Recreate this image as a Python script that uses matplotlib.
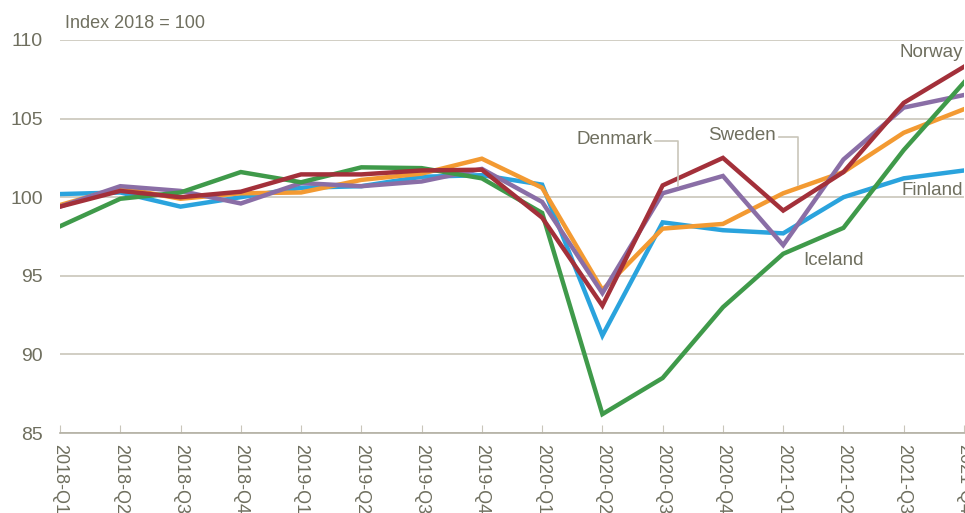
import matplotlib
matplotlib.use("Agg")
import matplotlib.pyplot as plt
from matplotlib import font_manager

names = {f.name for f in font_manager.fontManager.ttflist}
fam = ["Liberation Sans Narrow"] if "Liberation Sans Narrow" in names else ["Liberation Sans"]
plt.rcParams["font.family"] = fam + ["DejaVu Sans"]

quarters = ["2018-Q1", "2018-Q2", "2018-Q3", "2018-Q4",
            "2019-Q1", "2019-Q2", "2019-Q3", "2019-Q4",
            "2020-Q1", "2020-Q2", "2020-Q3", "2020-Q4",
            "2021-Q1", "2021-Q2", "2021-Q3", "2021-Q4"]

finland = [100.2, 100.3, 99.4, 100.0, 100.6, 100.7, 101.3, 101.4,
           100.8, 91.2, 98.4, 97.9, 97.7, 100.0, 101.2, 101.7]
iceland = [98.15, 99.9, 100.3, 101.6, 100.95, 101.9, 101.85, 101.2,
           99.0, 86.2, 88.5, 93.0, 96.4, 98.05, 103.0, 107.3]
denmark = [99.4, 100.7, 100.4, 99.6, 100.9, 100.7, 101.0, 101.8,
           99.7, 93.9, 100.25, 101.35, 96.95, 102.4, 105.7, 106.5]
sweden = [99.5, 100.6, 99.9, 100.25, 100.3, 101.1, 101.5, 102.45,
          100.6, 94.1, 98.0, 98.3, 100.25, 101.6, 104.1, 105.6]
norway = [99.4, 100.4, 100.0, 100.35, 101.45, 101.45, 101.7, 101.75,
          98.7, 93.1, 100.75, 102.5, 99.15, 101.6, 106.0, 108.3]

TXT = "#6f6f5f"
GRID = "#c9c6ba"

fig = plt.figure(figsize=(9.65, 5.13), dpi=100)
ax = fig.add_axes([60/965, 1-433/513, 904/965, (433-40)/513])

x = list(range(len(quarters)))
series = [("Finland", finland, "#2aa3dd"),
          ("Sweden", sweden, "#f39a32"),
          ("Denmark", denmark, "#8a6ea6"),
          ("Iceland", iceland, "#3f9a4a"),
          ("Norway", norway, "#a3303a")]
for name, vals, col in series:
    ax.plot(x, vals, color=col, lw=3.2, solid_joinstyle="miter", clip_on=True)

ax.set_xlim(0, 15)
ax.set_ylim(85, 110)
ax.set_yticks([85, 90, 95, 100, 105, 110])
ax.set_xticks(x)
ax.set_xticklabels(quarters, rotation=270, fontsize=13, color=TXT)
ax.tick_params(axis="y", length=0, pad=12.5, labelsize=14, labelcolor=TXT)
ax.tick_params(axis="x", direction="in", length=6, color=GRID, pad=8)
ax.grid(axis="y", color=GRID, lw=1.2)
ax.set_axisbelow(True)
for s in ["top", "right", "left"]:
    ax.spines[s].set_visible(False)
ax.spines["bottom"].set_color("#b3b0a4")
ax.spines["bottom"].set_linewidth(1.2)

ax.text(0.005, 1.02, "Index 2018 = 100", transform=ax.transAxes, fontsize=13,
        color=TXT, ha="left", va="bottom")

fs = 13.5
ax.text(0.999, 109.2, "Norway", fontsize=fs, color=TXT, ha="right", va="center",
        transform=ax.get_yaxis_transform())
ax.text(0.999, 100.4, "Finland", fontsize=fs, color=TXT, ha="right", va="center",
        transform=ax.get_yaxis_transform())
ax.text(12.33, 96.0, "Iceland", fontsize=fs, color=TXT, ha="left", va="center")
ax.text(9.83, 103.7, "Denmark", fontsize=fs, color=TXT, ha="right", va="center")
ax.text(11.88, 103.9, "Sweden", fontsize=fs, color=TXT, ha="right", va="center")
ax.plot([9.88, 10.25, 10.25], [103.6, 103.6, 100.7], color=GRID, lw=1.2)
ax.plot([11.93, 12.25, 12.25], [103.8, 103.8, 100.75], color=GRID, lw=1.2)

fig.savefig("out.png", dpi=100)
